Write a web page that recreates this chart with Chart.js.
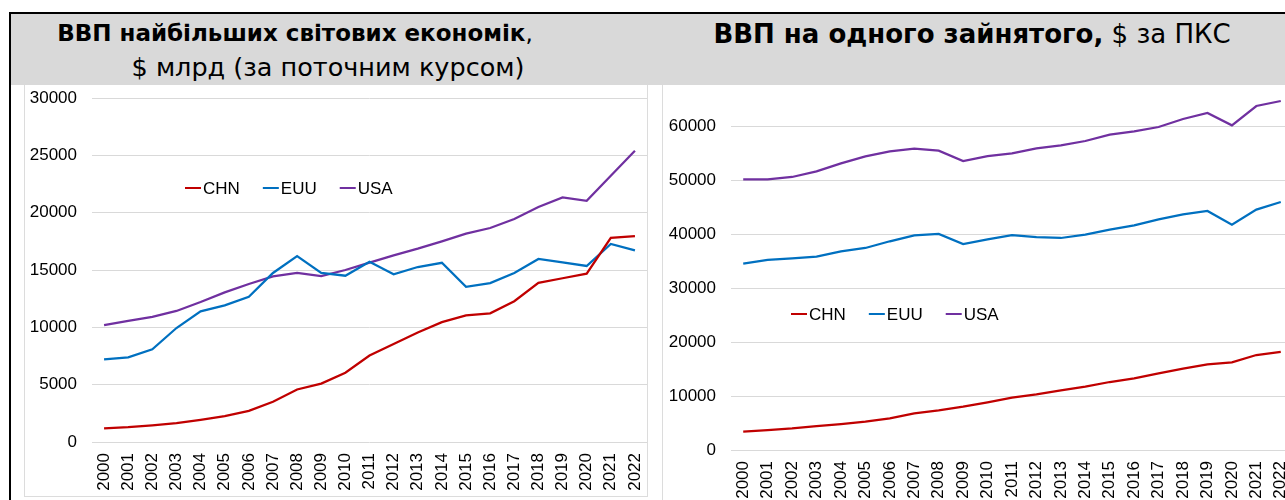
<!DOCTYPE html>
<html>
<head>
<meta charset="utf-8">
<script src="https://cdn.jsdelivr.net/npm/chart.js@4.4.1/dist/chart.umd.min.js"></script>
<style>
  body { margin: 0; width: 1285px; height: 500px; overflow: hidden; position: relative; background: #fff; }
  #frame { position: absolute; left: 9px; top: 12px; width: 1300px; height: 520px; border-left: 2px solid #000; border-top: 2px solid #000; }
  #header { position: absolute; left: 11px; top: 14px; width: 1290px; height: 71px; background: #d9d9d9; z-index: 3; }
  .title { position: absolute; width: 700px; text-align: center; white-space: nowrap; color: #000;
           font-family: "DejaVu Sans", sans-serif; }
  .title b { font-weight: bold; }
  .title span { font-weight: normal; }
  #box1 { position: absolute; left: 24px; top: 85px; width: 622px; height: 411px; border: 1px solid #dcdcdc; border-top: none; }
  #box2 { position: absolute; left: 662px; top: 85px; width: 700px; height: 500px; border-left: 1px solid #dcdcdc; }
  #wrap1 { position: absolute; left: 25px; top: 86px; }
  #wrap2 { position: absolute; left: 663px; top: 40px; z-index: 1; }
</style>
</head>
<body>
<div id="frame"></div>
<div id="box1"></div>
<div id="box2"></div>
<div id="wrap1"><canvas id="gdpChart" width="622" height="410"></canvas></div>
<div id="wrap2"><canvas id="perWorkerChart" width="630" height="480"></canvas></div>
<div id="header">
  <div class="title" style="left:-66px; top:8px; font-size:23px; line-height:23px;"><b>ВВП найбільших світових економік</b><span>,</span></div>
  <div class="title" style="left:-33px; top:41px; font-size:25.5px; line-height:25.5px;"><span>$ млрд (за поточним курсом)</span></div>
  <div class="title" style="left:611px; top:7px; font-size:26px; line-height:26px;"><b>ВВП на одного зайнятого,</b><span> $ за ПКС</span></div>
</div>

<script>
const years = ['2000', '2001', '2002', '2003', '2004', '2005', '2006', '2007', '2008', '2009', '2010', '2011',
  '2012', '2013', '2014', '2015', '2016', '2017', '2018', '2019', '2020', '2021', '2022'];

const seriesNames = ['CHN', 'EUU', 'USA'];
const seriesColors = ['#C00000', '#0070C0', '#7030A0'];

// ВВП, $ млрд
const gdpChn = [1190, 1300, 1460, 1640, 1930, 2260, 2720, 3510, 4580, 5090, 6040, 7540,
  8540, 9550, 10450, 11050, 11220, 12280, 13880, 14280, 14680, 17800, 17960];
const gdpEuu = [7200, 7380, 8080, 9940, 11390, 11910, 12670, 14740, 16220, 14740, 14500, 15720,
  14620, 15260, 15630, 13540, 13860, 14740, 15960, 15660, 15350, 17270, 16710];
const gdpUsa = [10200, 10560, 10910, 11430, 12210, 13050, 13780, 14440, 14740, 14460, 15000, 15640,
  16280, 16860, 17500, 18170, 18660, 19450, 20490, 21330, 21040, 23220, 25400];

// ВВП на одного зайнятого, $ за ПКС
const perChn = [3400, 3700, 4010, 4440, 4810, 5250, 5860, 6790, 7350, 8020, 8830, 9690,
  10310, 11050, 11720, 12590, 13270, 14200, 15060, 15870, 16240, 17590, 18150];
const perEuu = [34500, 35190, 35500, 35800, 36800, 37410, 38650, 39760, 40000, 38150, 39010, 39810,
  39440, 39260, 39880, 40800, 41600, 42720, 43640, 44260, 41730, 44510, 45930];
const perUsa = [50130, 50130, 50560, 51600, 53090, 54380, 55310, 55800, 55430, 53520, 54440, 54940,
  55860, 56420, 57220, 58390, 59010, 59810, 61300, 62410, 60130, 63700, 64630];

const gdpAxis = { max: 30000, step: 5000 };
const perAxis = { max: 70000, step: 10000 };

const FONT = '"Liberation Sans", Arial, sans-serif';

// легенда у вигляді короткої лінії + підпис, всередині області графіка
const lineLegend = {
  id: 'lineLegend',
  afterDraw(chart, args, opts) {
    const ctx = chart.ctx;
    ctx.save();
    ctx.font = '17px ' + FONT;
    ctx.textBaseline = 'middle';
    let x = opts.x;
    chart.data.datasets.forEach(ds => {
      ctx.strokeStyle = ds.borderColor;
      ctx.lineWidth = 2;
      ctx.beginPath();
      ctx.moveTo(x, opts.y);
      ctx.lineTo(x + 16, opts.y);
      ctx.stroke();
      ctx.fillStyle = '#000';
      ctx.fillText(ds.label, x + 18, opts.y + 1);
      x += 18 + ctx.measureText(ds.label).width + 23;
    });
    ctx.restore();
  }
};

function makeChart(id, series, axis, box) {
  const ctx = document.getElementById(id).getContext('2d');
  return new Chart(ctx, {
    type: 'line',
    data: {
      labels: years,
      datasets: series.map((vals, i) => ({
        label: seriesNames[i],
        data: vals,
        borderColor: seriesColors[i],
        backgroundColor: seriesColors[i],
        borderWidth: 2.25,
        pointRadius: 0,
        tension: 0
      }))
    },
    options: {
      responsive: false,
      animation: false,
      layout: { padding: { top: box.top, left: 0, right: 0, bottom: 0 } },
      plugins: {
        legend: { display: false },
        tooltip: { enabled: false },
        lineLegend: box.legend
      },
      scales: {
        x: {
          offset: true,
          grid: { display: false, drawTicks: false },
          border: { display: false },
          ticks: {
            color: '#000', font: { family: FONT, size: 17 },
            maxRotation: 90, minRotation: 90, padding: 11, autoSkip: false
          },
          afterFit(s) { s.height = box.xHeight; s.paddingLeft = 0; s.paddingRight = 0; }
        },
        y: {
          min: 0,
          max: axis.max,
          grid: { color: '#d9d9d9', lineWidth: 1, drawTicks: false },
          border: { display: false },
          ticks: {
            stepSize: axis.step, color: '#000', font: { family: FONT, size: 17 }, padding: 15,
            callback: v => String(v)
          },
          afterFit(s) { s.width = box.yWidth; s.paddingTop = 0; s.paddingBottom = 0; }
        }
      }
    },
    plugins: [lineLegend]
  });
}

makeChart('gdpChart', [gdpChn, gdpEuu, gdpUsa], gdpAxis,
  { top: 12, xHeight: 54, yWidth: 67, legend: { x: 160, y: 102 } });
makeChart('perWorkerChart', [perChn, perEuu, perUsa], perAxis,
  { top: 32, xHeight: 70, yWidth: 68, legend: { x: 128, y: 274 } });
</script>
</body>
</html>
